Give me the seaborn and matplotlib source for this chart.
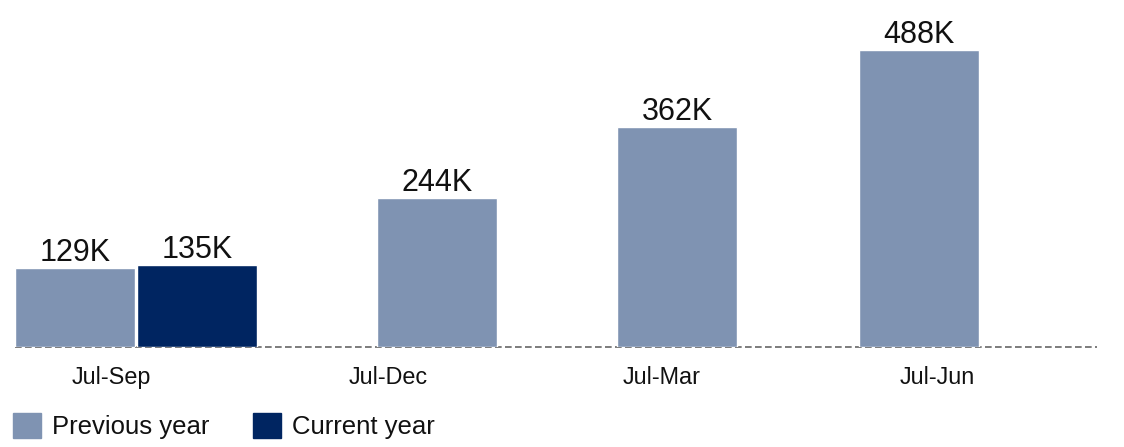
#!/usr/bin/env python3

"""Cumulative totals, previous year vs current year, as a bar chart."""

import pandas as pd
import seaborn as sns
import matplotlib.pyplot as plt
from matplotlib.patches import Patch

# DATA
PERIODS = ["Jul-Sep", "Jul-Dec", "Jul-Mar", "Jul-Jun"]
PREVIOUS_YEAR = [129, 244, 362, 488]   # thousands
CURRENT_YEAR = [135]                   # only Jul-Sep so far
SERIES = ["Previous year", "Current year"]

# LAYOUT (x in pixel units of the 1124 px wide figure)
PREV_CENTERS = [75, 437, 677, 919]
CURR_CENTERS = [197]
TICK_CENTERS = [111, 388, 662, 937]
BAR_WIDTH = 120

# COLOURS
COLORS = {"Previous year": "#7f93b2", "Current year": "#002561"}

sns.set_theme(style="white")
plt.rcParams["font.family"] = ["Liberation Sans", "DejaVu Sans"]

rows = [(x, v, SERIES[0]) for x, v in zip(PREV_CENTERS, PREVIOUS_YEAR)]
rows += [(x, v, SERIES[1]) for x, v in zip(CURR_CENTERS, CURRENT_YEAR)]
df = pd.DataFrame(rows, columns=["pos", "value", "series"])

fig = plt.figure(figsize=(11.24, 4.47), dpi=100)
ax = fig.add_axes([0, 100 / 447, 1, 347 / 447])

min_step = min(b - a for a, b in zip(sorted(df["pos"])[:-1], sorted(df["pos"])[1:]))
sns.barplot(
    data=df, x="pos", y="value", hue="series", hue_order=SERIES,
    palette=COLORS, native_scale=True, dodge=False,
    width=BAR_WIDTH / min_step, saturation=1, legend=False, ax=ax, zorder=2,
)

for cont in ax.containers:
    ax.bar_label(cont, fmt="{:.0f}K", padding=0, fontsize=22, color="#111111")

ax.hlines(0, 15, 1097, colors="#666666", linestyles=(0, (4, 2)), linewidth=1.2,
          zorder=1, clip_on=False)

ax.set_xlim(0, 1124)
ax.set_ylim(0, 488 * 347 / 297)
ax.set_xticks(TICK_CENTERS, PERIODS)
ax.tick_params(axis="x", length=0, pad=14, labelsize=16.8, labelcolor="#111111")
ax.set_yticks([])
ax.set_xlabel("")
ax.set_ylabel("")
sns.despine(ax=ax, left=True, bottom=True)

handles = [Patch(color=COLORS[s]) for s in SERIES]
fig.legend(
    handles, SERIES, loc="center left", bbox_to_anchor=(13 / 1124, 1 - 426 / 447),
    ncol=2, frameon=False, fontsize=18.5, handlelength=1.09, handleheight=1.09,
    handletextpad=0.43, columnspacing=1.7, labelcolor="#111111",
    borderpad=0, borderaxespad=0,
)

fig.savefig("out.png", dpi=100)
